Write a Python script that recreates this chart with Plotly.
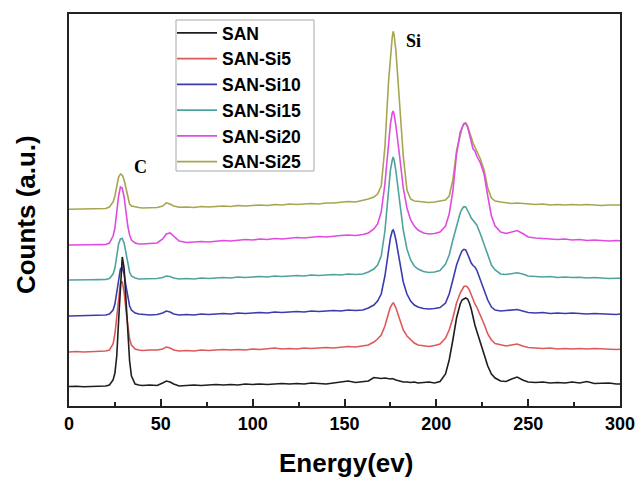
import plotly.graph_objects as go

# Energy grid (eV)
energy = [0, 4, 8, 12, 16, 20,
          22, 24, 25, 26, 27, 28, 29, 30, 31, 32, 33, 34,
          36, 38, 40, 44, 48,
          51, 53, 55, 57, 60,
          64, 68, 72, 76, 80, 84, 88, 92, 96, 100,
          104, 108, 112, 116, 120, 124, 128, 132, 136, 140,
          144, 148, 152, 156, 160,
          163, 166, 168, 170, 172, 174, 175, 176, 176.5, 177, 178,
          180, 182, 184, 186, 188, 190, 193, 196, 199, 202,
          205, 207, 209, 211, 213, 214, 215, 216, 217, 218,
          219, 220, 221, 222, 224, 226, 228, 230, 232, 235,
          238, 241, 244, 247, 250, 254, 258, 262, 266, 270,
          274, 278, 282, 286, 290, 294, 298, 300]

san = [19.5, 19.8, 19.3, 19.6, 19.8, 20.0,
       21, 26, 33, 50, 85, 125, 149, 138, 106, 72, 45, 30,
       22, 21, 20.5, 21, 20.5,
       23, 25, 24, 22, 20,
       20.5, 21, 20.5, 21, 21.5, 21, 21.5, 21, 22, 21.5,
       22, 21.5, 22, 22.5, 22, 22.5, 22, 23, 22.5, 22,
       23, 24, 25, 23.5, 24,
       25, 28.5, 28, 27.5, 28, 27, 27, 27.5, 27, 26.5, 26,
       25, 24, 24, 23.5, 24, 23, 23.5, 24, 23, 24.5,
       32, 46, 66, 88, 102, 106, 107, 108, 107, 103,
       97, 87, 81, 75, 64, 52, 40, 32, 28, 25,
       24.5, 27, 29, 26, 24, 23.5, 24, 23, 23.5, 23,
       24, 23, 24.5, 22.5, 22.5, 23, 22, 22]

san_si5 = [54, 54.5, 54, 54.3, 54.5, 55,
           56, 62, 72, 88, 110, 123, 124, 114, 96, 78, 67, 61,
           57, 56, 55.5, 56, 56,
           57, 59, 58, 56, 55,
           55.5, 55, 56, 55.5, 56, 56.5, 56, 56.5, 56, 57,
           56.5, 57, 58, 57, 57.5, 57, 58, 57.5, 58, 58.5,
           58, 59, 59.5, 59, 60,
           61, 64, 67, 71, 80, 93, 99, 102, 103, 102, 98,
           87, 76, 70, 66, 63, 61, 60, 59.5, 60.5, 62,
           68, 76, 88, 103, 113, 117, 119.5, 120, 119, 116,
           111, 106, 102, 99, 91, 82, 72, 66, 62.5, 61,
           60, 61, 62, 60, 58.5, 58, 57.5, 58, 57, 57.5,
           57, 57.5, 57, 57.5, 57, 56.5, 56.5, 56.7]

san_si10 = [90, 90.3, 90, 90.2, 90.5, 91,
            92, 96, 102, 113, 127, 137, 138.7, 132, 120, 108, 100, 96,
            93, 92, 91.5, 91, 91.5,
            93, 95, 94, 92, 91,
            91.5, 91, 92, 91.5, 92, 92.5, 92, 93, 92.5, 93,
            93.5, 93, 94, 93.5, 94, 94.5, 94, 95, 94.5, 95,
            95.5, 95, 96, 95.5, 96,
            98, 101, 105, 112, 130, 156, 168, 175, 176, 174, 166,
            145, 124, 112, 105, 101, 99, 97.5, 97, 97.5, 98.5,
            103, 112, 126, 141, 151, 155, 156.7, 156, 152, 147,
            143, 140.5, 139, 136, 127, 116, 106, 99, 96, 95,
            95.5, 96, 96.5, 95, 93.5, 93, 93.5, 92.5, 93, 92.5,
            93, 92.5, 92, 92.5, 92, 92, 91.5, 92]

san_si15 = [126, 126.3, 126, 126.2, 126.4, 126.5,
            127.5, 132, 138, 150, 162, 167, 167.5, 163, 152, 141, 134, 130,
            128, 127, 127, 127, 127.5,
            128.5, 130, 129.5, 128, 127,
            127.5, 127, 128, 127.5, 128, 128.5, 128, 129, 128.5, 129,
            129.5, 129, 130, 129.5, 130, 130.5, 130, 131, 130.5, 131,
            131.5, 131, 132, 131.5, 132,
            134, 137, 141, 150, 175, 218, 236, 246, 249, 246, 235,
            205, 176, 157, 146, 140, 137, 134.5, 133.5, 134, 135.5,
            142, 151, 166, 181, 193, 197, 199.3, 199, 196, 192,
            188, 186, 184, 181, 172, 161, 150, 141, 136, 132,
            131.5, 132.5, 133.3, 132, 130, 129.5, 129, 129.5, 128.5, 129,
            128.5, 128.8, 128, 128.5, 128, 127.5, 127.8, 127.7]

san_si20 = [161, 161.3, 161, 161.3, 161.4, 161.5,
            163, 170, 178, 194, 210, 219, 218, 209, 194, 180, 171, 166,
            163, 162, 162, 162.5, 163,
            167, 172, 173, 170, 165,
            163.5, 164, 164.5, 164, 165, 165.5, 165, 166, 166.5, 166,
            167, 166.5, 167.5, 167, 168, 168.5, 168, 169, 169.5, 169,
            170, 170.5, 171, 170.5, 171.5,
            173, 177, 182, 194, 222, 262, 282, 293, 295, 292, 280,
            250, 218, 198, 186, 180, 176, 173, 172, 172.5, 174,
            180, 192, 215, 252, 274, 279, 282, 282.7, 279, 272,
            263, 257, 255, 250, 243, 232, 210, 190, 180, 174,
            172.5, 174, 175.5, 172.5, 169, 168, 167.5, 167, 166.5, 167,
            166, 166.5, 165.5, 166, 165.5, 165, 165.5, 165.3]

san_si25 = [196.7, 197, 196.8, 197, 197.2, 197.5,
            199, 204, 210, 220, 229, 232, 231, 226, 217, 208, 202, 200,
            199, 198.5, 198, 198.5, 198.5,
            200, 203, 202, 200, 198.7,
            199, 198.5, 199.5, 199, 199.5, 200, 199.5, 200.5, 200, 200.5,
            201, 200.5, 201.5, 201, 202, 201.5, 202, 202.5, 202, 203,
            203, 203.5, 204.5, 204, 205.5,
            207, 209, 212, 220, 259, 325, 352, 369, 374.7, 371, 355,
            305, 250, 216, 207, 205, 204.5, 204, 203.5, 204, 205,
            206, 210, 226, 255, 272, 278, 282.5, 283, 280, 274,
            268, 263, 259, 255, 247, 236, 218, 208, 205, 204,
            203, 202.5, 203, 202.5, 202, 201.5, 202, 201, 201.5, 201,
            201.5, 201, 201.5, 201, 200.5, 201, 201, 201]

names = ["SAN", "SAN-Si5", "SAN-Si10", "SAN-Si15", "SAN-Si20", "SAN-Si25"]
series = [san, san_si5, san_si10, san_si15, san_si20, san_si25]
colors = ["#1e1e1e", "#dc5a5a", "#3c3cb0", "#4fa39e", "#e04ce0", "#a6a650"]

x_ticks = [0, 50, 100, 150, 200, 250, 300]

fig = go.Figure()
# draw in reverse so SAN is on top, legend reversed to keep SAN first
for name, ys, col in reversed(list(zip(names, series, colors))):
    n = min(len(energy), len(ys))
    fig.add_trace(go.Scatter(x=energy[:n], y=ys[:n], mode="lines", name=name,
                             line=dict(color=col, width=1.6)))

fig.add_annotation(x=38.7, y=239, text="C", showarrow=False,
                   font=dict(family="Liberation Serif", size=18, color="black", weight="bold"))
fig.add_annotation(x=187.3, y=365, text="Si", showarrow=False,
                   font=dict(family="Liberation Serif", size=18, color="black", weight="bold"))

fig.add_annotation(xref="paper", yref="paper", x=0.502, y=-0.1454, text="Energy(ev)",
                   showarrow=False, xanchor="center", yanchor="middle",
                   font=dict(family="Liberation Sans", size=26, color="black", weight="bold"))
fig.add_annotation(xref="paper", yref="paper", x=-0.078, y=0.487, text="Counts (a.u.)",
                   showarrow=False, xanchor="center", yanchor="middle", textangle=-90,
                   font=dict(family="Liberation Sans", size=26, color="black", weight="bold"))

# legend frame (drawn as a shape so its size matches the original box)
fig.add_shape(type="rect", xref="paper", yref="paper",
              x0=(176 - 69) / 551, x1=(314 - 69) / 551,
              y0=(406 - 171) / 392, y1=(406 - 20) / 392,
              line=dict(color="#a8a8a8", width=1), fillcolor="white", layer="above")

fig.update_layout(
    width=639, height=477,
    margin=dict(l=69, r=19, t=14, b=71, autoexpand=False),
    paper_bgcolor="white", plot_bgcolor="white",
    showlegend=True,
    legend=dict(x=(172 - 69) / 551, y=(406 - 15) / 392, xanchor="left", yanchor="top",
                traceorder="reversed", itemwidth=40,
                bgcolor="rgba(0,0,0,0)", borderwidth=0,
                font=dict(family="Liberation Sans", size=17.5, color="black", weight="bold")),
)
fig.update_xaxes(range=[0, 300], tickvals=x_ticks, ticks="inside", ticklen=7, tickwidth=1.5,
                 tickcolor="#222", showline=True, linecolor="#222", linewidth=2, mirror=True,
                 showgrid=False, zeroline=False, automargin=False,
                 minor=dict(ticks="inside", ticklen=4, tickwidth=1.5, tickcolor="#222", dtick=25, showgrid=False),
                 tickfont=dict(family="Liberation Sans", size=18, color="black", weight="bold"))
fig.update_yaxes(range=[0, 392], showticklabels=False, ticks="", showline=True, linecolor="#222",
                 linewidth=2, mirror=True, showgrid=False, zeroline=False, automargin=False)

fig.write_html("out.html")
